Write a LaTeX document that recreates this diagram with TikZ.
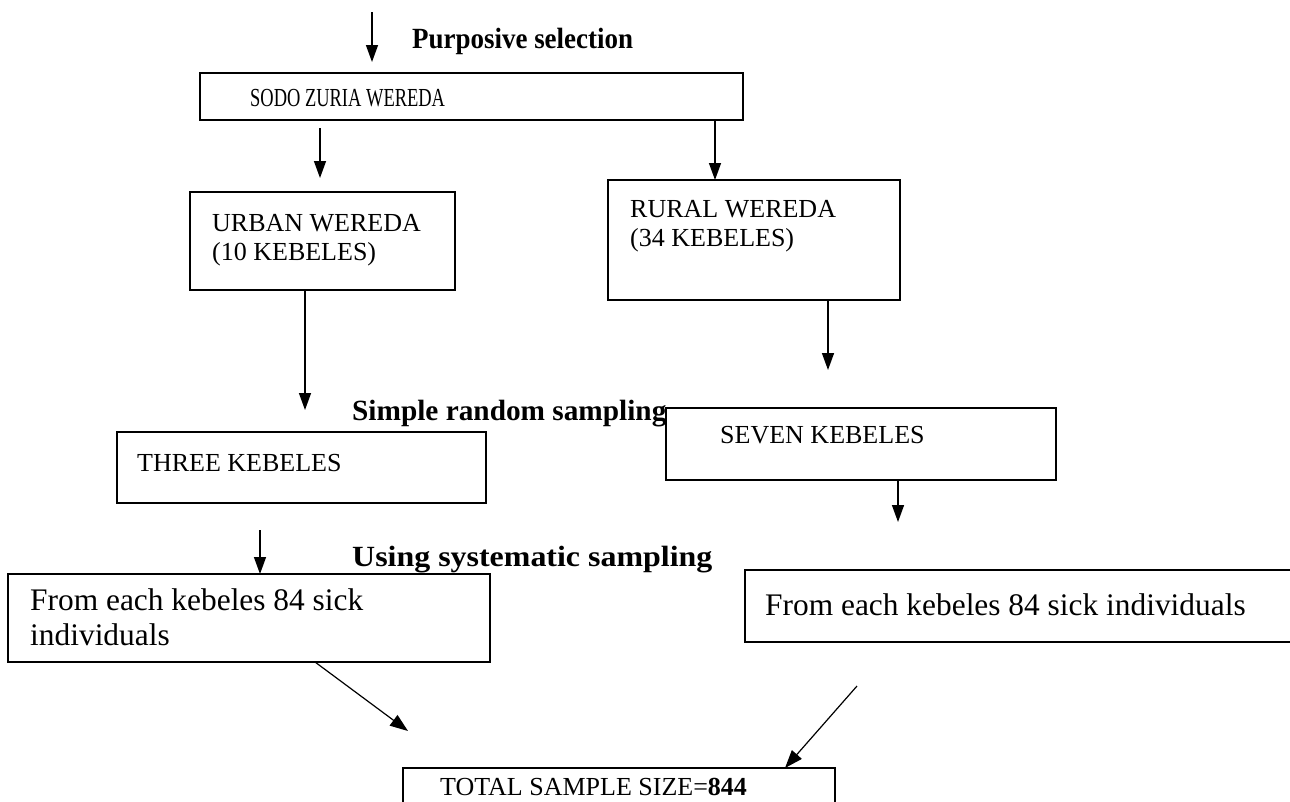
\documentclass[tikz,border=0pt]{standalone}
\usepackage{fontspec}
\setmainfont{Liberation Serif}
\usetikzlibrary{arrows.meta}
\tikzset{
  box/.style={draw, line width=1.8pt, inner sep=0pt, outer sep=0pt, anchor=north west},
  arr/.style={line width=1.4pt, -{Triangle[length=17pt,width=12pt]}},
  diag/.style={line width=1.2pt, -{Triangle[length=18pt,width=13pt]}},
  captxt/.style={anchor=base west, inner sep=0pt, font=\fontsize{26}{29}\selectfont},
  bigtxt/.style={anchor=base west, inner sep=0pt, font=\fontsize{31.4}{34}\selectfont},
  lbl/.style={anchor=base west, inner sep=0pt, font=\fontsize{29.3}{32}\selectfont\bfseries},
}
\begin{document}
\begin{tikzpicture}[x=1pt,y=-1pt]
\useasboundingbox (0,0) rectangle (1290,801);
% boxes
\node[box, minimum width=543pt, minimum height=47pt] (sodo) at (200,73) {};
\node[box, minimum width=265pt, minimum height=98pt] (urban) at (190,192) {};
\node[box, minimum width=292pt, minimum height=120pt] (rural) at (608,180) {};
\node[box, minimum width=369pt, minimum height=71pt] (three) at (117,432) {};
\node[box, minimum width=390pt, minimum height=72pt] (seven) at (666,408) {};
\node[box, minimum width=482pt, minimum height=88pt] (lfrom) at (8,574) {};
\node[box, minimum width=560pt, minimum height=72pt] (rfrom) at (745,570) {};
\node[box, minimum width=432pt, minimum height=60pt] (total) at (403,768) {};
% texts
\node[captxt] (tsodo) at (250,106) {\scalebox{0.71}[1]{SODO ZURIA WEREDA}};
\node[captxt] (turban1) at (212,231) {URBAN WEREDA};
\node[captxt] (turban2) at (212,260) {(10 KEBELES)};
\node[captxt] (trural1) at (630,217) {RURAL WEREDA};
\node[captxt] (trural2) at (630,246) {(34 KEBELES)};
\node[captxt] (tthree) at (137,471) {THREE KEBELES};
\node[captxt] (tseven) at (720,443) {SEVEN KEBELES};
\node[bigtxt] (tlfrom1) at (30,610) {From each kebeles 84 sick};
\node[bigtxt] (tlfrom2) at (30,645) {individuals};
\node[bigtxt] (trfrom) at (765,615) {From each kebeles 84 sick individuals};
\node[captxt] (ttotal) at (440,795) {TOTAL SAMPLE SIZE=\textbf{844}};
\node[lbl] (lpurp) at (412,48) {\scalebox{0.92}[1]{Purposive selection}};
\node[lbl] (lsimple) at (352,420) {Simple random sampling};
\node[lbl] (lsyst) at (352,566) {\scalebox{1.09}[1]{Using systematic sampling}};
% free ends
\coordinate (top0) at (372,12);
\coordinate (top1) at (372,62);
\coordinate (ua) at (320,128);
\coordinate (ub) at (320,178);
\coordinate (ut) at (305,410);
\coordinate (rt) at (828,370);
\coordinate (st) at (898,522);
\coordinate (ta) at (260,530);
\coordinate (la) at (315,662);
\coordinate (lb) at (408,731);
\coordinate (ra) at (857,686);
% connectors
\draw[arr] (top0) -- (top1);
\draw[arr] (ua) -- (ub);
\draw[arr] (sodo.south -| 715,0) -- (rural.north -| 715,0);
\draw[arr] (urban.south -| ut) -- (ut);
\draw[arr] (rural.south -| rt) -- (rt);
\draw[arr] (seven.south -| st) -- (st);
\draw[arr] (ta) -- (lfrom.north -| ta);
\draw[diag] (la) -- (lb);
\draw[diag] (ra) -- (total.north -| 785,0);
\end{tikzpicture}
\end{document}
